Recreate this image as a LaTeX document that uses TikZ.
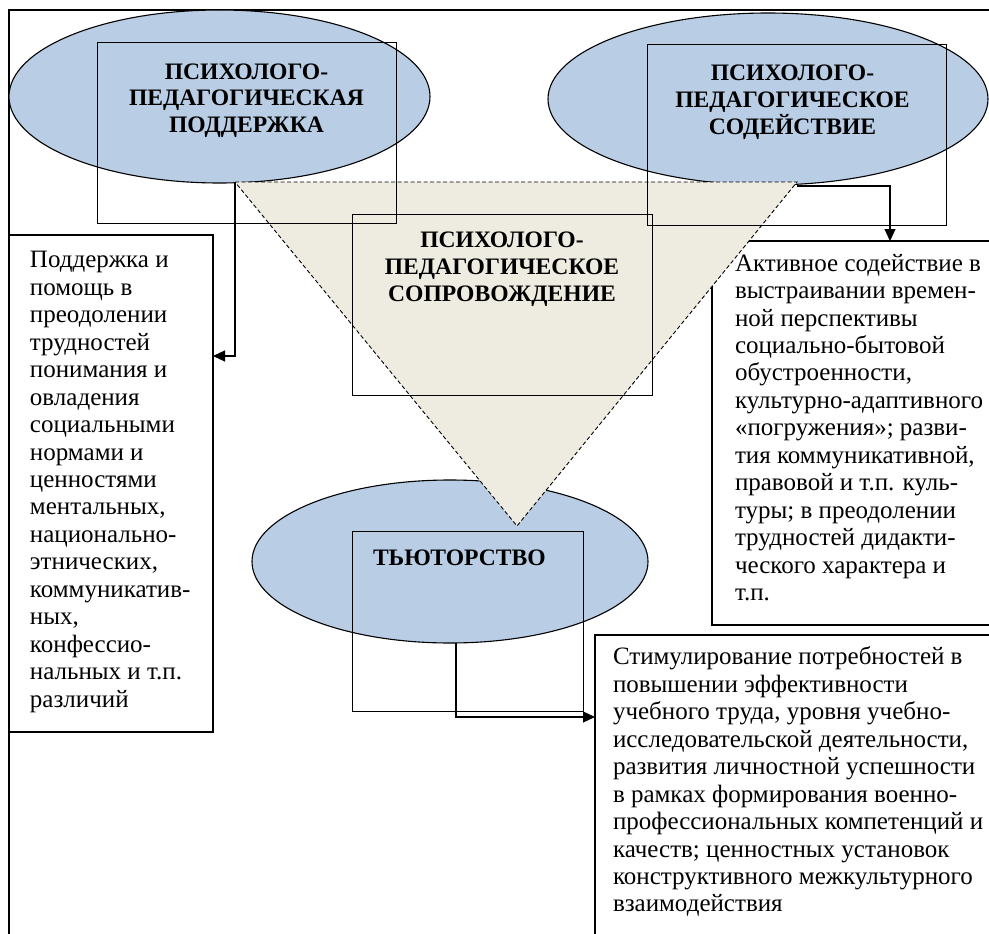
\documentclass[tikz,border=0pt]{standalone}
\usepackage{fontspec}
\setmainfont{Liberation Serif}
\usepackage{xcolor}
\usetikzlibrary{shapes.geometric,arrows.meta,positioning}
\definecolor{ovalblue}{HTML}{B9CDE5}
\definecolor{wedgetan}{HTML}{EEECE1}

\begin{document}
\begin{tikzpicture}[x=1pt,y=-1pt,
      every node/.style={inner sep=0pt, outer sep=0pt},
      oval/.style={draw, ellipse, fill=ovalblue, line width=1.1pt},
      frame/.style={draw, rectangle, line width=0.8pt},
      txtbox/.style={draw, rectangle, fill=white, line width=1.3pt},
      head/.style={align=center, font=\fontsize{23.6}{26.8}\selectfont\bfseries},
      body/.style={align=left, font=\fontsize{25}{27.45}\selectfont},
      arr/.style={line width=1.2pt, -{Triangle[length=12pt,width=11pt]}}
    ]
    \useasboundingbox (0,0) rectangle (989,934);

    \draw[line width=1.3pt] (9,10) rectangle (1000,945);

    \node[txtbox, minimum width=204pt, minimum height=497pt] (lbox) at (111,483.5) {};
    \node[txtbox, minimum width=288pt, minimum height=384pt] (rbox) at (856,433) {};
    \node[txtbox, minimum width=405pt, minimum height=310pt] (bbox) at (797.5,790) {};

    \node[oval, minimum width=421pt, minimum height=173pt] (supp) at (219.5,96.5) {};
    \node[oval, minimum width=440pt, minimum height=172pt] (assist) at (768,99) {};
    \node[oval, minimum width=396pt, minimum height=163pt] (tutor) at (450,561.5) {};

    \coordinate (tl) at (235,182);
    \coordinate (tr) at (797,182);
    \coordinate (tip) at (517,526);
    \draw[fill=wedgetan, line width=0.9pt, dash pattern=on 4pt off 2.5pt] (tl) -- (tr) -- (tip) -- cycle;

    \node[frame, minimum width=299pt, minimum height=181pt] (suppbox) at (246.5,132.5) {};
    \node[frame, minimum width=299pt, minimum height=181pt] (assistbox) at (796.5,134.5) {};
    \node[frame, minimum width=300pt, minimum height=181pt] (escbox) at (502,304.5) {};
    \node[frame, minimum width=231pt, minimum height=180pt] (tutorbox) at (467.5,621) {};

    \draw[arr] (tl) |- (lbox.east |- 0,356);
    \draw[arr] ([yshift=-4pt]tr) -| (rbox.north -| 890,0);
    \draw[arr] ([xshift=6pt]tutor.south) |- (bbox.west |- 0,717);

    \node[head, below=21.4pt of suppbox.north] {ПСИХОЛОГО-\\ПЕДАГОГИЧЕСКАЯ\\ПОДДЕРЖКА};
    \node[head, below=21pt of assistbox.north, xshift=-4pt] {ПСИХОЛОГО-\\ПЕДАГОГИЧЕСКОЕ\\СОДЕЙСТВИЕ};
    \node[head, below=18pt of escbox.north] {ПСИХОЛОГО-\\ПЕДАГОГИЧЕСКОЕ\\СОПРОВОЖДЕНИЕ};
    \node[head, anchor=north west, below right=19pt and 21pt of tutorbox.north west] {ТЬЮТОРСТВО};

    \node[body, below right=16.5pt and 21pt of lbox.north west] {Поддержка и\\помощь в\\преодолении\\трудностей\\понимания и\\овладения\\социальными\\нормами и\\ценностями\\ментальных,\\национально-\\этнических,\\коммуникатив-\\ных,\\конфессио-\\нальных и т.п.\\различий};
    \node[body, below right=13pt and 23pt of rbox.north west] {Активное содействие в\\выстраивании времен-\\ной перспективы\\социально-бытовой\\обустроенности,\\культурно-адаптивного\\«погружения»; разви-\\тия коммуникативной,\\правовой и т.п. куль-\\туры; в преодолении\\трудностей дидакти-\\ческого характера и\\т.п.};
    \node[body, below right=12pt and 18pt of bbox.north west] {Стимулирование потребностей в\\повышении эффективности\\учебного труда, уровня учебно-\\исследовательской деятельности,\\развития личностной успешности\\в рамках формирования военно-\\профессиональных компетенций и\\качеств; ценностных установок\\конструктивного межкультурного\\взаимодействия};
\end{tikzpicture}
\end{document}
